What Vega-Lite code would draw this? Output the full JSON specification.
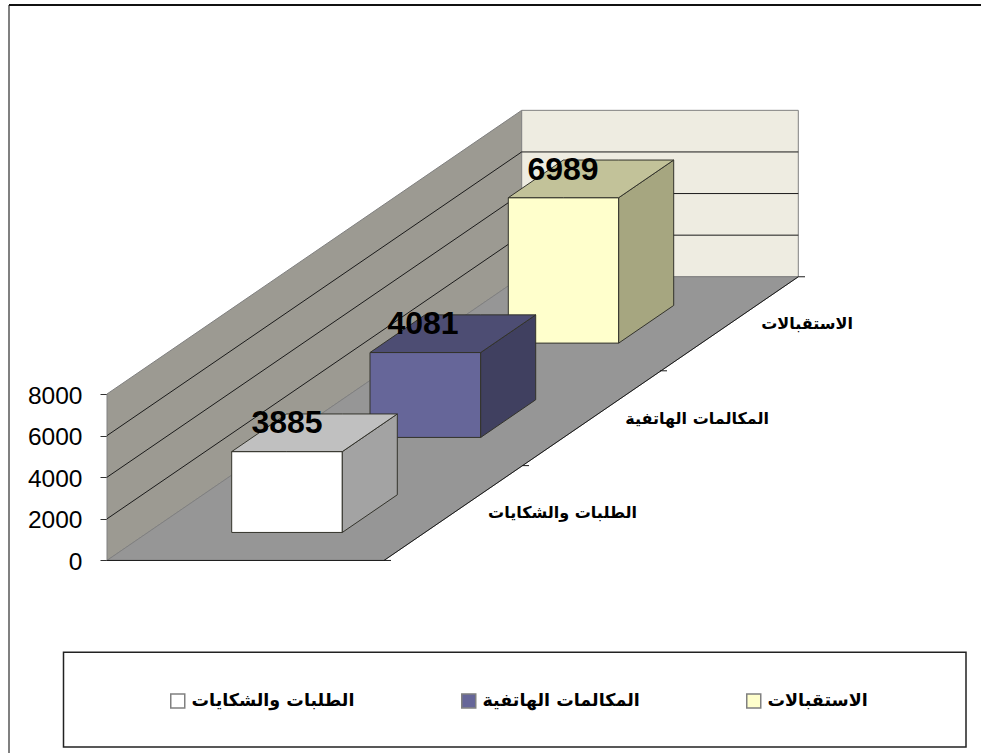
{
  "$schema": "https://vega.github.io/schema/vega-lite/v6.json",
  "width": 981, "height": 753, "padding": 0,
  "autosize": {"type": "none"},
  "background": "white",
  "config": {"view": {"stroke": null}},
  "datasets": {
    "bars": [
      {"category": "الاستقبالات", "value": 6989, "labelX": 563, "labelY": 18760, "catX": 853, "catY": 11360},
      {"category": "المكالمات الهاتفية", "value": 4081, "labelX": 423, "labelY": 11360, "catX": 769, "catY": 6794},
      {"category": "الطلبات والشكايات", "value": 3885, "labelX": 287, "labelY": 6625, "catX": 637, "catY": 2277}
    ],
    "walls": [
      {"face": "wall left", "x": 107, "low": 0, "high": 8000},
      {"face": "wall left", "x": 521.7, "low": 13635, "high": 21635},
      {"face": "wall back", "x": 521.7, "low": 13635, "high": 21635},
      {"face": "wall back", "x": 798.3, "low": 13635, "high": 21635},
      {"face": "floor", "x": 107, "low": 0, "high": 0},
      {"face": "floor", "x": 384, "low": 0, "high": 9107},
      {"face": "floor", "x": 521.7, "low": 4527, "high": 13635},
      {"face": "floor", "x": 798.3, "low": 13635, "high": 13635}
    ],
    "faces": [
      {"face": "الاستقبالات", "x": 508.3, "low": 10447, "high": 17436},
      {"face": "الاستقبالات", "x": 618.7, "low": 10447, "high": 17436},
      {"face": "receptions side", "x": 618.7, "low": 10447, "high": 17436},
      {"face": "receptions side", "x": 673.7, "low": 12257, "high": 19246},
      {"face": "receptions top", "x": 508.3, "low": 17436, "high": 17436},
      {"face": "receptions top", "x": 563.3, "low": 17436, "high": 19246},
      {"face": "receptions top", "x": 618.7, "low": 17436, "high": 19246},
      {"face": "receptions top", "x": 673.7, "low": 19246, "high": 19246},
      {"face": "المكالمات الهاتفية", "x": 370, "low": 5913, "high": 9994},
      {"face": "المكالمات الهاتفية", "x": 480.7, "low": 5913, "high": 9994},
      {"face": "calls side", "x": 480.7, "low": 5913, "high": 9994},
      {"face": "calls side", "x": 535.7, "low": 7723, "high": 11804},
      {"face": "calls top", "x": 370, "low": 9994, "high": 9994},
      {"face": "calls top", "x": 425, "low": 9994, "high": 11804},
      {"face": "calls top", "x": 480.7, "low": 9994, "high": 11804},
      {"face": "calls top", "x": 535.7, "low": 11804, "high": 11804},
      {"face": "الطلبات والشكايات", "x": 231.7, "low": 1346, "high": 5231},
      {"face": "الطلبات والشكايات", "x": 342.3, "low": 1346, "high": 5231},
      {"face": "requests side", "x": 342.3, "low": 1346, "high": 5231},
      {"face": "requests side", "x": 397.3, "low": 3156, "high": 7041},
      {"face": "requests top", "x": 231.7, "low": 5231, "high": 5231},
      {"face": "requests top", "x": 286.7, "low": 5231, "high": 7041},
      {"face": "requests top", "x": 342.3, "low": 5231, "high": 7041},
      {"face": "requests top", "x": 397.3, "low": 7041, "high": 7041}
    ],
    "grid": [
      {"line": "g2000", "x": 107, "y": 2000},
      {"line": "g2000", "x": 521.7, "y": 15635},
      {"line": "g2000", "x": 798.3, "y": 15635},
      {"line": "g4000", "x": 107, "y": 4000},
      {"line": "g4000", "x": 521.7, "y": 17635},
      {"line": "g4000", "x": 798.3, "y": 17635},
      {"line": "g6000", "x": 107, "y": 6000},
      {"line": "g6000", "x": 521.7, "y": 19635},
      {"line": "g6000", "x": 798.3, "y": 19635},
      {"line": "front edge", "x": 107, "y": 0},
      {"line": "front edge", "x": 391, "y": 0},
      {"line": "right edge", "x": 384, "y": 0},
      {"line": "right edge", "x": 798.3, "y": 13635},
      {"line": "tick a", "x": 522.5, "y": 4558},
      {"line": "tick a", "x": 529, "y": 4558},
      {"line": "tick b", "x": 660, "y": 9115},
      {"line": "tick b", "x": 667, "y": 9115},
      {"line": "tick c", "x": 798.3, "y": 13635},
      {"line": "tick c", "x": 805, "y": 13635}
    ],
    "frame": [
      {"line": "left", "x": 9, "y": 26700},
      {"line": "left", "x": 9, "y": -9255},
      {"line": "top", "x": 9, "y": 26700},
      {"line": "top", "x": 981, "y": 26700}
    ],
    "legendBox": [
      {"x": 63.5, "x2": 966, "y": -4409, "y2": -8962}
    ]
  },
  "layer": [
    {
      "data": {"name": "frame"},
      "mark": {"type": "line", "strokeWidth": 2},
      "encoding": {
        "x": {"field": "x", "type": "quantitative", "scale": {"domain": [0, 981], "nice": false, "zero": false}, "axis": null},
        "y": {"field": "y", "type": "quantitative", "scale": {"domain": [-9255, 26938], "nice": false, "zero": false}, "axis": {"title": null, "values": [0, 2000, 4000, 6000, 8000], "offset": -107, "grid": false, "domain": false, "tickSize": 7, "tickColor": "#333333", "labelPadding": 18, "labelOffset": 2, "labelFont": "Liberation Sans", "labelFontSize": 24.5, "labelColor": "black", "format": "d"}},
        "stroke": {"field": "line", "type": "nominal", "scale": {"domain": ["left", "top"], "range": ["#808080", "#111111"]}, "legend": null}
      }
    },
    {
      "data": {"name": "legendBox"},
      "mark": {"type": "rect", "fill": "white", "stroke": "#222222", "strokeWidth": 1.5},
      "encoding": {
        "x": {"field": "x", "type": "quantitative"},
        "x2": {"field": "x2"},
        "y": {"field": "y", "type": "quantitative"},
        "y2": {"field": "y2"}
      }
    },
    {
      "data": {"name": "walls"},
      "mark": {"type": "area", "stroke": "#808080", "strokeWidth": 1, "opacity": 1},
      "encoding": {
        "x": {"field": "x", "type": "quantitative"},
        "y": {"field": "low", "type": "quantitative"},
        "y2": {"field": "high"},
        "fill": {"field": "face", "type": "nominal"}
      }
    },
    {
      "data": {"name": "grid"},
      "mark": {"type": "line", "stroke": "#1a1a1a", "strokeWidth": 1},
      "encoding": {
        "x": {"field": "x", "type": "quantitative"},
        "y": {"field": "y", "type": "quantitative"},
        "detail": {"field": "line", "type": "nominal"}
      }
    },
    {
      "data": {"name": "faces"},
      "mark": {"type": "area", "stroke": "#33332b", "strokeWidth": 1, "opacity": 1},
      "encoding": {
        "x": {"field": "x", "type": "quantitative"},
        "y": {"field": "low", "type": "quantitative"},
        "y2": {"field": "high"},
        "fill": {
          "field": "face", "type": "nominal",
          "scale": {
            "domain": ["wall left", "wall back", "floor", "الاستقبالات", "receptions side", "receptions top", "المكالمات الهاتفية", "calls side", "calls top", "الطلبات والشكايات", "requests side", "requests top"],
            "range": ["#9c9a92", "#eeece1", "#969696", "#ffffcc", "#a6a680", "#c2c299", "#666699", "#404060", "#4d4d73", "#ffffff", "#a3a3a3", "#c0c0c0"]
          },
          "legend": {
            "values": ["الطلبات والشكايات", "المكالمات الهاتفية", "الاستقبالات"],
            "title": null, "orient": "none", "legendX": 169, "legendY": 692, "direction": "horizontal", "columns": 3, "gridAlign": "each", "columnPadding": 103, "padding": 0,
            "symbolType": "square", "symbolSize": 196, "symbolOpacity": 1, "labelFont": "DejaVu Sans", "labelFontWeight": "bold", "labelFontSize": 17.5, "labelColor": "black", "labelOffset": 5, "labelLimit": 300,
            "encode": {"symbols": {"update": {"stroke": {"value": "#111111"}, "strokeWidth": {"value": 2.5}}}}
          }
        }
      }
    },
    {
      "data": {"name": "bars"},
      "mark": {"type": "text", "font": "Liberation Sans", "fontWeight": "bold", "fontSize": 32, "baseline": "middle", "align": "center", "color": "black"},
      "encoding": {
        "x": {"field": "labelX", "type": "quantitative"},
        "y": {"field": "labelY", "type": "quantitative"},
        "text": {"field": "value", "type": "quantitative", "format": "d"}
      }
    },
    {
      "data": {"name": "bars"},
      "mark": {"type": "text", "font": "DejaVu Sans", "fontWeight": "bold", "fontSize": 16, "baseline": "middle", "align": "right", "color": "black"},
      "encoding": {
        "x": {"field": "catX", "type": "quantitative"},
        "y": {"field": "catY", "type": "quantitative"},
        "text": {"field": "category", "type": "nominal"}
      }
    }
  ]
}
